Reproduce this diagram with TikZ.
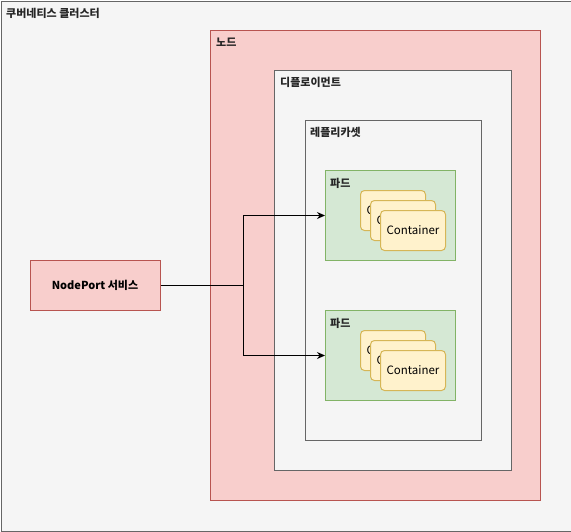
\documentclass[tikz,border=0pt]{standalone}
\usepackage{fontspec}
\setmainfont{Noto Sans CJK KR}
\usetikzlibrary{arrows.meta}
\usetikzlibrary{positioning}

\definecolor{grayfill}{HTML}{F5F5F5}
\definecolor{graydraw}{HTML}{666666}
\definecolor{redfill}{HTML}{F8CECC}
\definecolor{reddraw}{HTML}{B85450}
\definecolor{greenfill}{HTML}{D5E8D4}
\definecolor{greendraw}{HTML}{82B366}
\definecolor{yellowfill}{HTML}{FFF2CC}
\definecolor{yellowdraw}{HTML}{D6B656}

\tikzset{
  area/.style={draw, line width=1pt, anchor=north west, inner sep=0pt},
  grayarea/.style={area, fill=grayfill, draw=graydraw},
  redarea/.style={area, fill=redfill, draw=reddraw},
  podarea/.style={area, fill=greenfill, draw=greendraw},
  boxlabel/.style={anchor=north west, inner sep=0pt, font=\bfseries\fontsize{11}{13}\selectfont, text=black!85},
  ctr/.style={draw=yellowdraw, fill=yellowfill, line width=1pt, rounded corners=4pt,
              minimum width=65pt, minimum height=40pt, anchor=north west, inner sep=0pt,
              font=\fontsize{11.5}{13}\selectfont},
}

\begin{document}
\begin{tikzpicture}[x=1pt, y=-1pt, >={Stealth[black, length=8pt, width=7pt]}]
	\useasboundingbox (0,0) rectangle (571,531);

	% boxes, outside in
	\node[grayarea, minimum width=570pt, minimum height=530pt] (cluster) at (0.5,0.5) {};
	\node[boxlabel] (clusterlabel) at (6,8) {쿠버네티스 클러스터};

	\node[redarea, minimum width=330pt, minimum height=470pt] (node) at (210,30) {};
	\node[boxlabel] (nodelabel) at (216,38) {노드};

	\node[grayarea, minimum width=237pt, minimum height=400pt] (deploy) at (274,70) {};
	\node[boxlabel] (deploylabel) at (280,77) {디플로이먼트};

	\node[grayarea, minimum width=176pt, minimum height=320pt] (rs) at (305,120) {};
	\node[boxlabel] (rslabel) at (310,127) {레플리카셋};

	% pods
	\foreach \i/\y in {1/170, 2/310} {
		\node[podarea, minimum width=130pt, minimum height=90pt] (pod\i) at (325,\y) {};
		\node[boxlabel] (pod\i label) at (330,\y+8) {파드};
		\node[ctr] (pod\i c1) at (360,\y+20) {Container};
		\node[ctr] (pod\i c2) at (370,\y+30) {Container};
		\node[ctr] (pod\i c3) at (380,\y+40) {Container};
	}

	% service
	\node[redarea, minimum width=130pt, minimum height=50pt, anchor=center,
	      font=\bfseries\fontsize{11}{13}\selectfont] (svc) at (95,285) {NodePort 서비스};

	\coordinate (split) at (243,285);
	\draw[line width=1pt] (svc) -- (split);
	\draw[line width=1pt, ->] (split) |- (pod1.west);
	\draw[line width=1pt, ->] (split) |- (pod2.west);
\end{tikzpicture}
\end{document}
